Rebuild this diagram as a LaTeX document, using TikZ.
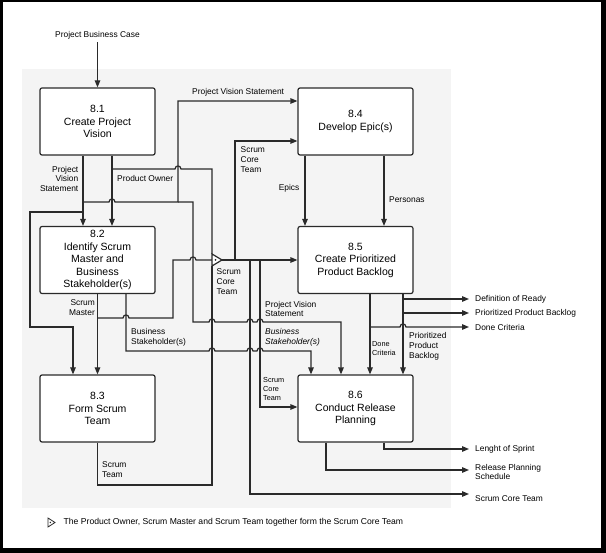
\documentclass[tikz,border=0pt]{standalone}
\usepackage{fontspec}
\setmainfont{Liberation Sans}
\usetikzlibrary{arrows.meta}
\definecolor{panel}{HTML}{F4F4F4}
\definecolor{ink}{HTML}{2A2A2A}
\begin{document}
\begin{tikzpicture}[x=1pt,y=-1pt,
  box/.style={draw=ink,line width=1.2pt,rounded corners=2pt,fill=white,minimum width=115pt,minimum height=67pt,align=center,inner sep=0pt,font=\fontsize{10.5}{12.5}\selectfont},
  conn/.style={draw=ink,line width=1.2pt},
  arr/.style={conn,-{Triangle[length=7pt,width=5.5pt]}},
  lbl/.style={inner sep=0pt,font=\fontsize{8.4}{9.9}\selectfont},
  lbls/.style={inner sep=0pt,font=\fontsize{7.3}{8.6}\selectfont}]
\useasboundingbox (0,0) rectangle (606,553);
\fill[black] (0,0) rectangle (606,553);
\fill[white] (2.5,2.5) rectangle (601,548);
\fill[panel] (22,69) rectangle (451,508);

% process boxes
\node[box] (n81) at (97.5,121.5) {8.1\\Create Project\\Vision};
\node[box] (n82) at (97.5,260) {8.2\\Identify Scrum\\Master and\\Business\\Stakeholder(s)};
\node[box] (n83) at (97.5,408.5) {8.3\\Form Scrum\\Team};
\node[box] (n84) at (355.5,121.5) {8.4\\Develop Epic(s)};
\node[box] (n85) at (355.5,260) {8.5\\Create Prioritized\\Product Backlog};
\node[box] (n86) at (355.5,408.5) {8.6\\Conduct Release\\Planning};

% labels
\node[lbl] (lPBC) at (97.5,35) {Project Business Case};
\node[lbl,anchor=west] (lPVS1) at (192,92.5) {Project Vision Statement};
\node[lbl,anchor=east,align=right] (lPVS2) at (78.5,179) {Project\\Vision\\Statement};
\node[lbl,anchor=west] (lPO) at (117,179) {Product Owner};
\node[lbl,anchor=west,align=left] (lSCT1) at (240.5,160) {Scrum\\Core\\Team};
\node[lbl,anchor=east] (lEp) at (299.5,188) {Epics};
\node[lbl,anchor=west] (lPer) at (389,200) {Personas};
\node[lbl,anchor=west,align=left] (lSCT2) at (216.5,282) {Scrum\\Core\\Team};
\node[lbl,anchor=east,align=right] (lSM) at (95,308) {Scrum\\Master};
\node[lbl,anchor=west,align=left] (lBS1) at (131,337) {Business\\Stakeholder(s)};
\node[lbl,anchor=west,align=left] (lPVS3) at (265,309) {Project Vision\\Statement};
\node[lbl,anchor=west,align=left,font=\fontsize{8.4}{9.9}\selectfont\itshape] (lBS2) at (265,337) {Business\\Stakeholder(s)};
\node[lbls,anchor=west,align=left] (lSCT3) at (263,389) {Scrum\\Core\\Team};
\node[lbls,anchor=west,align=left] (lDC) at (372,348.5) {Done\\Criteria};
\node[lbl,anchor=west,align=left] (lPPB) at (409,346.5) {Prioritized\\Product\\Backlog};
\node[lbl,anchor=west,align=left] (lST) at (102,470) {Scrum\\Team};

% outputs
\node[lbl,anchor=west] (oDoR) at (475,299) {Definition of Ready};
\node[lbl,anchor=west] (oPPB) at (475,313) {Prioritized Product Backlog};
\node[lbl,anchor=west] (oDC) at (475,327) {Done Criteria};
\node[lbl,anchor=west] (oLS) at (475,449) {Lenght of Sprint};
\node[lbl,anchor=west,align=left] (oRPS) at (475,472) {Release Planning\\Schedule};
\node[lbl,anchor=west] (oSCT) at (475,499) {Scrum Core Team};

% input
\draw[arr] ([yshift=-3pt]lPBC.south) -- (n81.north);

% from 8.1
\draw[arr] ([xshift=-14.5pt]n81.south) -- ([xshift=-14.5pt]n82.north);
\draw[arr] ([xshift=14.5pt]n81.south) -- ([xshift=14.5pt]n82.north);
\draw[arr] (83,202) -- (109,202) .. controls (109,198) and (115,198) .. (115,202) -- (178,202) -- (178,101) -- ([yshift=20.5pt]n84.west);
\draw[arr] (178,202) -- (193,202) -- (193,322) -- (209,322) .. controls (209,318) and (215,318) .. (215,322) -- (247,322) .. controls (247,318) and (253,318) .. (253,322) -- (257,322) .. controls (257,318) and (263,318) .. (263,322) -- (341,322) -- ([xshift=-14.5pt]n86.north);
\draw[arr] (83,212) -- (30,212) -- (30,327) -- (73,327) -- ([xshift=-24.5pt]n83.north);
\draw[conn] (112,169) -- (175,169) .. controls (175,165) and (181,165) .. (181,169) -- (212,169) -- (212,254);

% from 8.2
\draw[arr] (n82.south) -- (n83.north);
\draw[conn] (97.5,318) -- (123,318) .. controls (123,314) and (129,314) .. (129,318) -- (173,318) -- (173,260) -- (190,260) .. controls (190,256) and (196,256) .. (196,260) -- (212,260);
\draw[arr] ([xshift=28.5pt]n82.south) -- (126,351) -- (209,351) .. controls (209,347) and (215,347) .. (215,351) -- (247,351) .. controls (247,347) and (253,347) .. (253,351) -- (257,351) .. controls (257,347) and (263,347) .. (263,351) -- (311,351) -- ([xshift=-44.5pt]n86.north);

% from 8.3
\draw[conn] (n83.south) -- (97.5,485) -- (212,485) -- (212,266);

% Scrum Core Team junction
\draw[conn,fill=white,line join=miter] (212,254) -- (222,260) -- (212,266) -- cycle;
\fill[ink] (215.5,260) circle[radius=1pt];
\draw[arr] (222,260) -- (n85.west);
\draw[arr] (235,260) -- (235,141) -- ([yshift=-19.5pt]n84.west);
\draw[arr] (260,260) -- (260,407) -- ([yshift=1.5pt]n86.west);
\draw[arr] (250,260) -- (250,494) -- ([xshift=-6pt,yshift=5pt]oSCT.west);

% from 8.4
\draw[arr] ([xshift=-50.5pt]n84.south) -- ([xshift=-50.5pt]n85.north);
\draw[arr] ([xshift=28.5pt]n84.south) -- ([xshift=28.5pt]n85.north);

% from 8.5
\draw[arr] ([xshift=14.5pt]n85.south) -- ([xshift=14.5pt]n86.north);
\draw[arr] ([xshift=47.5pt]n85.south) -- ([xshift=47.5pt]n86.north);
\draw[arr] (403,299) -- ([xshift=-6pt]oDoR.west);
\draw[arr] (403,313) -- ([xshift=-6pt]oPPB.west);
\draw[arr] (370,327) -- (400,327) .. controls (400,323) and (406,323) .. (406,327) -- ([xshift=-6pt]oDC.west);

% from 8.6
\draw[arr] ([xshift=28.5pt]n86.south) -- (384,449) -- ([xshift=-6pt]oLS.west);
\draw[arr] ([xshift=-29.5pt]n86.south) -- (326,470) -- ([xshift=-6pt,yshift=2pt]oRPS.west);

% footnote
\draw[conn,fill=white,line join=miter,line width=0.8pt] (48,518) -- (55,522.5) -- (48,527) -- cycle;
\fill[ink] (50.3,522.5) circle[radius=0.8pt];
\node[lbl,anchor=west,font=\fontsize{8.6}{10}\selectfont] (fn) at (63.5,522.5) {The Product Owner, Scrum Master and Scrum Team together form the Scrum Core Team};
\end{tikzpicture}
\end{document}
